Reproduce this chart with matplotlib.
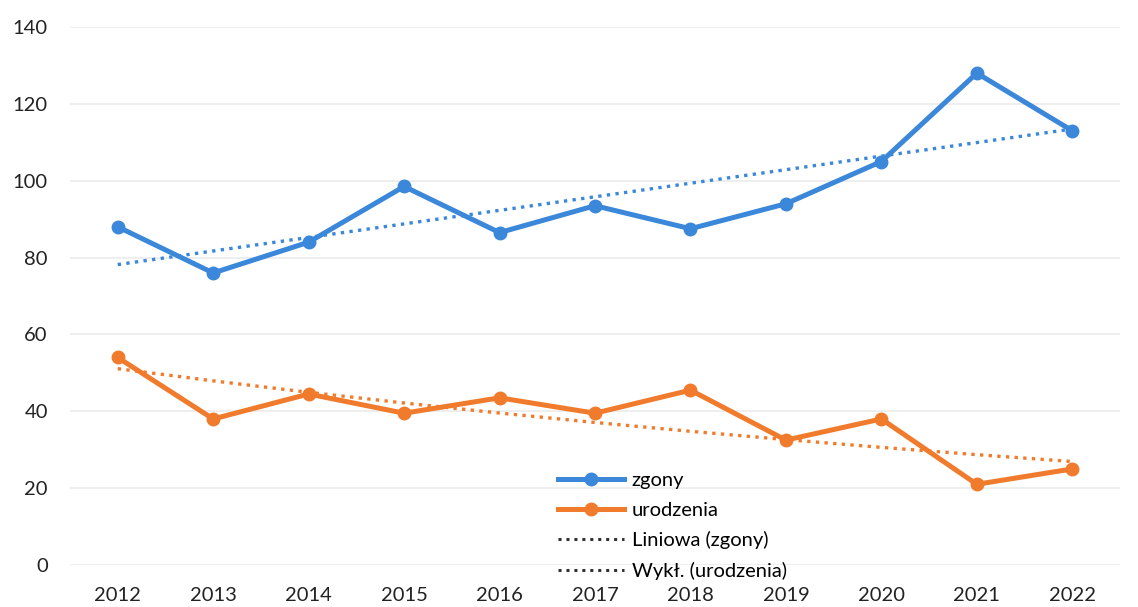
import numpy as np
import matplotlib.pyplot as plt
from matplotlib.lines import Line2D

plt.rcParams['font.family'] = ['Lato', 'DejaVu Sans']

years = ['2012', '2013', '2014', '2015', '2016', '2017', '2018', '2019', '2020', '2021', '2022']
zgony = [88, 76, 84, 98.5, 86.5, 93.5, 87.5, 94, 105, 128, 113]
urodzenia = [54, 38, 44.5, 39.5, 43.5, 39.5, 45.5, 32.5, 38, 21, 25]

BLUE = '#3b87d9'
ORANGE = '#f07b2c'

x = np.arange(len(years))

# trendlines as in the spreadsheet: linear for deaths, exponential for births
a, b = np.polyfit(x, zgony, 1)
lin_trend = a * x + b
k, c = np.polyfit(x, np.log(urodzenia), 1)
exp_trend = np.exp(c) * np.exp(k * x)

fig = plt.figure(figsize=(11.38, 6.07), dpi=100)
ax = fig.add_axes([70 / 1138, 1 - 565 / 607, 1050 / 1138, 538 / 607])

ax.plot(x, lin_trend, color=BLUE, lw=2.4, ls=(0, (1, 1.6)), zorder=2)
ax.plot(x, exp_trend, color=ORANGE, lw=2.4, ls=(0, (1, 1.6)), zorder=2)
ax.plot(x, zgony, color=BLUE, lw=3.6, marker='o', ms=9, zorder=3)
ax.plot(x, urodzenia, color=ORANGE, lw=3.6, marker='o', ms=9, zorder=3)

ax.set_xlim(-0.5, len(years) - 0.5)
ax.set_ylim(0, 140)
ax.set_yticks(range(0, 141, 20))
ax.set_xticks(x)
ax.set_xticklabels(years)
ax.grid(axis='y', color='#ebebeb', lw=1.2)
ax.set_axisbelow(True)
for s in ax.spines.values():
    s.set_visible(False)
ax.tick_params(length=0, labelsize=14.5, colors='#222222')
ax.tick_params(axis='y', pad=16)
ax.tick_params(axis='x', pad=16)

handles = [
    Line2D([], [], color=BLUE, lw=3.6, marker='o', ms=9),
    Line2D([], [], color=ORANGE, lw=3.6, marker='o', ms=9),
    Line2D([], [], color='#333333', lw=2.2, ls=(0, (1, 1.6))),
    Line2D([], [], color='#333333', lw=2.2, ls=(0, (1, 1.6))),
]
labels = ['zgony', 'urodzenia', 'Liniowa (zgony)', 'Wykł. (urodzenia)']
fig.legend(handles, labels, loc='upper left', bbox_to_anchor=(558 / 1138, 1 - 472 / 607),
           frameon=False, fontsize=14.5, handlelength=3.3, handletextpad=0.35,
           labelspacing=0.62, borderaxespad=0, borderpad=0)

fig.savefig('out.png', dpi=100)
